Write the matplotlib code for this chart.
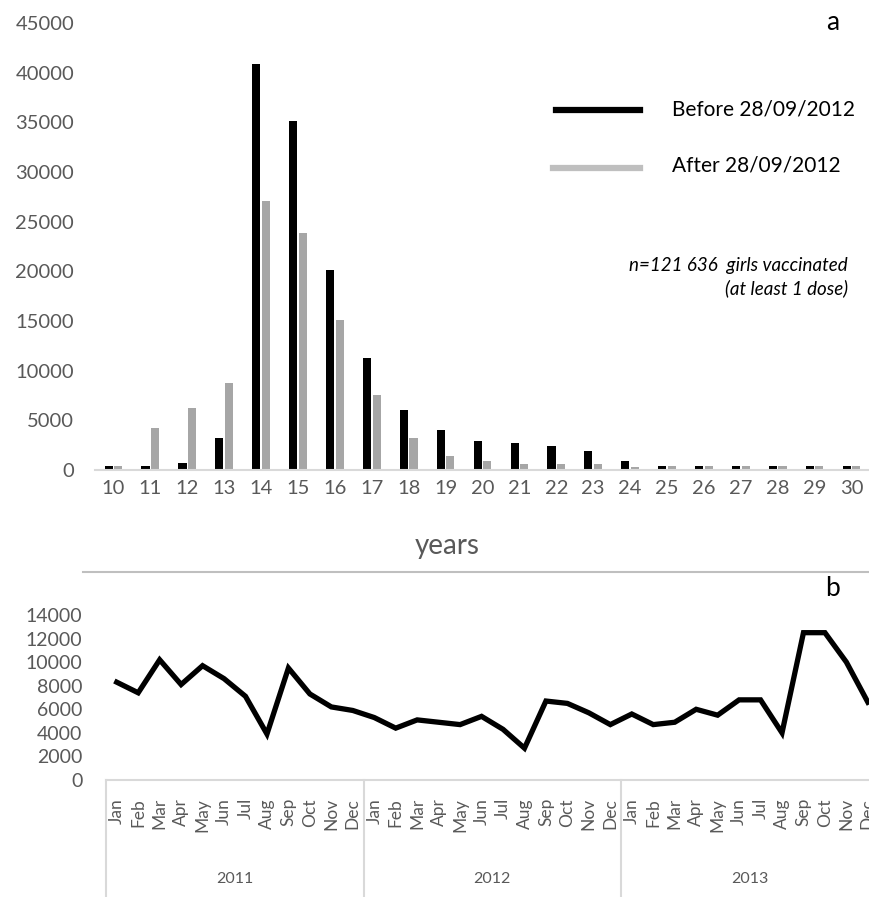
import numpy as np
import matplotlib
matplotlib.use("Agg")
from matplotlib import pyplot as plt
from matplotlib.lines import Line2D

plt.rcParams["font.family"] = ["Lato", "DejaVu Sans"]

# panel a: age at vaccination
ages = [str(a) for a in range(10, 31)]
before = [400, 400, 700, 3200, 40900, 35100, 20100, 11300, 6000, 4000, 2900,
          2700, 2400, 1900, 900, 400, 400, 400, 400, 400, 400]
after = [400, 4200, 6200, 8800, 27100, 23900, 15100, 7500, 3200, 1400, 900,
         600, 600, 600, 300, 400, 400, 400, 400, 400, 400]

# panel b: monthly vaccinations 2011-2013
months = ["Jan", "Feb", "Mar", "Apr", "May", "Jun",
          "Jul", "Aug", "Sep", "Oct", "Nov", "Dec"]
years = ["2011", "2012", "2013"]
monthly = [8300, 7400, 10200, 8100, 9700, 8600, 7100, 3900, 9500, 7300, 6200, 5900,
           5300, 4400, 5100, 4900, 4700, 5400, 4300, 2700, 6700, 6500, 5700, 4700,
           5600, 4700, 4900, 6000, 5500, 6800, 6800, 4000, 12500, 12500, 10000, 6600]

TXT = "#595959"
AX = "#d9d9d9"
W, H = 870, 897

fig = plt.figure(figsize=(8.7, 8.97), dpi=100)

def box(x0, y0, x1, y1):
    # pixel box (top-left origin) -> figure fraction
    return [x0 / W, 1 - y1 / H, (x1 - x0) / W, (y1 - y0) / H]

# ---------------- panel a
ax = fig.add_axes(box(95, 23, 870, 470))
x = np.arange(len(ages))
ax.bar(x - 0.13, before, width=0.22, color="black")
ax.bar(x + 0.13, after, width=0.22, color="#a6a6a6")
ax.set_xlim(-0.5, len(ages) - 0.5)
ax.set_ylim(0, 45000)
ax.set_yticks(np.arange(0, 45001, 5000))
ax.set_xticks(x)
ax.set_xticklabels(ages)
for s in ["top", "right", "left"]:
    ax.spines[s].set_visible(False)
ax.spines["bottom"].set_color(AX)
ax.spines["bottom"].set_linewidth(1.5)
ax.tick_params(axis="y", length=0, pad=15, labelsize=14.5, labelcolor=TXT)
ax.tick_params(axis="x", length=0, pad=7, labelsize=14.5, labelcolor=TXT)

# legend drawn by hand
fig.add_artist(Line2D([556 / W, 640 / W], [1 - 110 / H] * 2, color="black", lw=4.5))
fig.add_artist(Line2D([553 / W, 640 / W], [1 - 168 / H] * 2, color="#bfbfbf", lw=4.5))
fig.text(672 / W, 1 - 110 / H, "Before 28/09/2012", fontsize=15, va="center")
fig.text(672 / W, 1 - 166 / H, "After 28/09/2012", fontsize=15, va="center")
fig.text(848 / W, 1 - 266 / H, "n=121 636  girls vaccinated", fontsize=13.5,
         style="italic", ha="right", va="center")
fig.text(848 / W, 1 - 288 / H, "(at least 1 dose)", fontsize=13.5,
         style="italic", ha="right", va="center")
fig.text(833 / W, 1 - 23 / H, "a", fontsize=19, ha="center", va="center")
fig.text(447 / W, 1 - 546 / H, "years", fontsize=20, color=TXT, ha="center", va="center")
fig.add_artist(Line2D([83 / W, 1.0], [1 - 572 / H] * 2, color="#bfbfbf", lw=1.5))

# ---------------- panel b
bx = fig.add_axes(box(106, 615, 870, 780))
t = np.arange(len(monthly))
bx.plot(t, monthly, color="black", lw=3.8, solid_joinstyle="miter")
bx.set_xlim(-0.5, 35.1)
bx.set_ylim(0, 14000)
bx.set_yticks(np.arange(0, 14001, 2000))
bx.set_xticks(t)
bx.set_xticklabels(months * len(years), rotation=90, va="top")
for s in ["top", "right", "left"]:
    bx.spines[s].set_visible(False)
bx.spines["bottom"].set_color(AX)
bx.spines["bottom"].set_linewidth(1.5)
bx.tick_params(axis="y", length=0, pad=17, labelsize=14, labelcolor=TXT)
bx.tick_params(axis="x", length=0, pad=13, labelsize=12.5, labelcolor=TXT)

tr = bx.get_xaxis_transform()
for k, yr in enumerate(years):
    bx.plot([12 * k - 0.5] * 2, [0, -0.75], color=AX, lw=1.5,
            transform=tr, clip_on=False)
    bx.text(12 * k + 5.5, -0.6, yr, transform=tr, fontsize=11.5,
            color=TXT, ha="center", va="center")
fig.text(833 / W, 1 - 589 / H, "b", fontsize=19, ha="center", va="center")

fig.savefig("out.png", dpi=100)
